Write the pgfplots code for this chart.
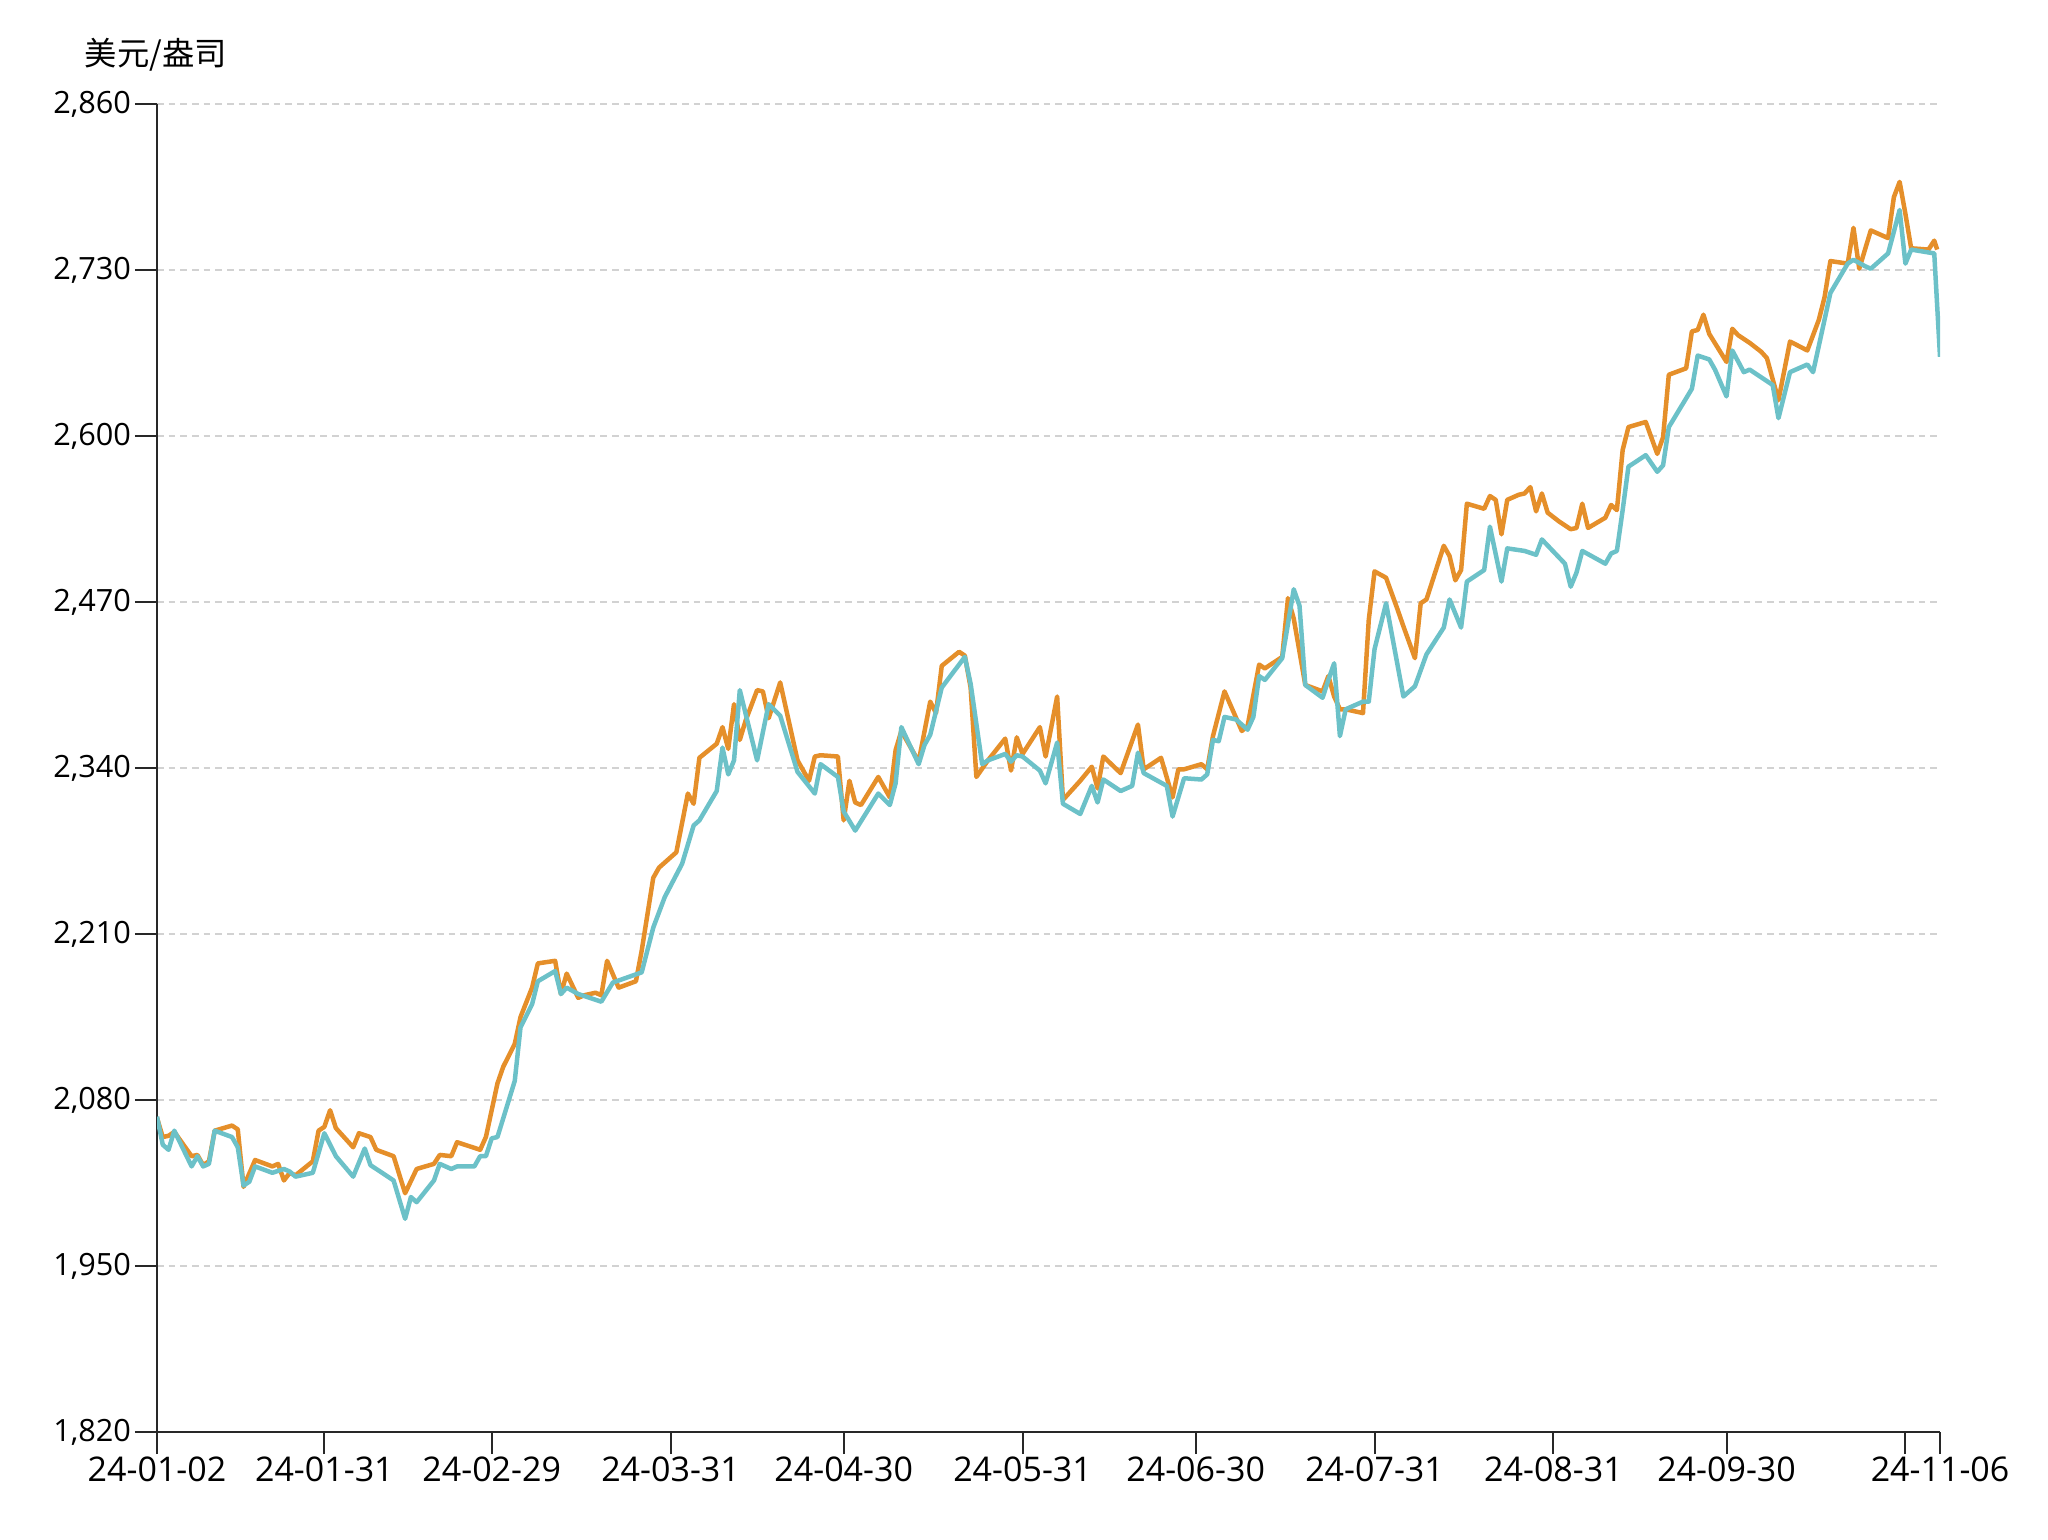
\documentclass[border=0pt]{standalone}
\usepackage{pgfplots}
\pgfplotsset{compat=1.18}
\usepackage{fontspec}
\setmainfont{Open Sans}
\newfontfamily\cjk{Noto Sans CJK SC}
\definecolor{cOrange}{RGB}{229,143,42}
\definecolor{cTeal}{RGB}{108,193,200}
\definecolor{cGrid}{RGB}{210,210,210}
\definecolor{cAxis}{RGB}{40,40,40}
\begin{document}
\begin{tikzpicture}
\useasboundingbox (0,0) rectangle (614.4pt,461.7pt);
\begin{axis}[
  at={(47.1pt,32.1pt)}, anchor=south west,
  scale only axis, width=534.9pt, height=398.4pt,
  xmin=0, xmax=309, ymin=1820, ymax=2860,
  axis x line=bottom, axis y line=left,
  axis line style={-, cAxis, line width=0.8pt},
  xtick={0,29,58,89,119,150,180,211,242,272,303,309},
  xticklabels={24-01-02,24-01-31,24-02-29,24-03-31,24-04-30,24-05-31,24-06-30,24-07-31,24-08-31,24-09-30,{},24-11-06},
  ytick={1820,1950,2080,2210,2340,2470,2600,2730,2860},
  tick align=outside,
  major tick length=6.6pt,
  tick style={cAxis, line width=0.6pt},
  ymajorgrids,
  major grid style={cGrid, line width=0.5pt, dash pattern=on 2pt off 1.5pt},
  yticklabel style={font=\fontsize{9.2pt}{11pt}\selectfont, text=black, inner sep=1pt},
  xticklabel style={font=\fontsize{10.2pt}{12pt}\selectfont, text=black, inner sep=0.5pt},
  /pgf/number format/.cd, 1000 sep={,}, assume math mode=true,
]
\addplot[cOrange, line width=1.35pt, line join=round] coordinates {
(0,2066)(1,2051)(2,2052)(3,2055)(6,2036)(7,2037)(8,2029)(9,2032)(10,2056)(13,2060)(14,2057)(15,2012)(17,2033)(20,2028)(21,2030)(22,2017)(23,2023)(24,2021)(27,2032)(28,2056)(29,2059)(30,2072)(31,2058)(34,2043)(35,2054)(37,2051)(38,2041)(41,2036)(43,2007)(45,2026)(48,2030)(49,2037)(51,2036)(52,2047)(56,2041)(57,2051)(59,2093)(60,2106)(62,2124)(63,2145)(65,2168)(66,2187)(69,2189)(70,2163)(71,2179)(73,2160)(74,2162)(76,2164)(77,2162)(78,2189)(80,2168)(83,2173)(84,2197)(86,2254)(87,2262)(90,2274)(92,2320)(93,2312)(94,2348)(97,2359)(98,2372)(99,2355)(100,2390)(101,2362)(102,2377)(104,2401)(105,2400)(106,2379)(108,2407)(111,2346)(113,2330)(114,2349)(115,2350)(118,2349)(119,2299)(120,2330)(121,2313)(122,2311)(125,2333)(127,2317)(128,2354)(129,2369)(132,2345)(134,2392)(135,2383)(136,2420)(139,2431)(140,2428)(141,2403)(142,2333)(144,2346)(147,2363)(148,2338)(149,2364)(150,2351)(153,2372)(154,2349)(156,2396)(157,2315)(160,2330)(162,2341)(163,2324)(164,2349)(167,2336)(170,2374)(171,2339)(174,2348)(176,2317)(177,2339)(178,2339)(181,2343)(182,2339)(183,2365)(185,2400)(188,2369)(189,2373)(191,2421)(192,2418)(195,2427)(196,2473)(197,2457)(199,2405)(202,2400)(203,2412)(204,2396)(205,2386)(206,2386)(209,2383)(210,2456)(211,2494)(213,2489)(215,2464)(216,2451)(218,2426)(219,2469)(220,2472)(223,2514)(224,2506)(225,2487)(226,2495)(227,2547)(230,2543)(231,2553)(232,2550)(233,2523)(234,2550)(236,2554)(237,2555)(238,2560)(239,2541)(240,2555)(241,2540)(243,2533)(245,2527)(246,2528)(247,2547)(248,2528)(251,2536)(252,2546)(253,2542)(254,2589)(255,2607)(258,2611)(260,2586)(261,2599)(262,2648)(265,2653)(266,2682)(267,2683)(268,2695)(269,2680)(272,2658)(273,2684)(274,2679)(276,2673)(278,2666)(279,2661)(281,2628)(283,2674)(286,2667)(288,2691)(289,2709)(290,2737)(293,2735)(294,2763)(295,2731)(296,2746)(297,2761)(300,2755)(301,2787)(302,2799)(303,2774)(304,2747)(307,2746)(308,2753)(308.5,2746)
};
\addplot[cTeal, line width=1.35pt, line join=round] coordinates {
(0,2067)(1,2045)(2,2041)(3,2056)(6,2028)(7,2036)(8,2028)(9,2030)(10,2056)(13,2051)(14,2043)(15,2013)(16,2016)(17,2028)(20,2023)(22,2026)(23,2024)(24,2020)(27,2023)(29,2054)(31,2036)(34,2020)(36,2042)(37,2029)(41,2017)(43,1987)(44,2004)(45,2000)(48,2017)(49,2030)(51,2026)(52,2028)(55,2028)(56,2036)(57,2036)(58,2050)(59,2051)(62,2095)(63,2137)(65,2155)(66,2173)(69,2181)(70,2163)(71,2168)(73,2163)(75,2160)(77,2157)(79,2172)(84,2180)(86,2215)(88,2239)(91,2265)(93,2295)(94,2299)(97,2322)(98,2356)(99,2335)(100,2346)(101,2401)(104,2346)(106,2390)(108,2381)(111,2337)(114,2320)(115,2343)(118,2333)(119,2306)(121,2291)(125,2320)(127,2311)(128,2328)(129,2372)(132,2343)(133,2358)(134,2366)(136,2403)(140,2427)(141,2406)(143,2343)(144,2346)(147,2351)(148,2345)(149,2350)(150,2349)(153,2338)(154,2328)(156,2360)(157,2312)(160,2304)(162,2326)(163,2313)(164,2331)(167,2322)(169,2326)(170,2352)(171,2336)(175,2326)(176,2302)(178,2332)(181,2331)(182,2335)(183,2362)(184,2361)(185,2380)(187,2378)(189,2370)(190,2380)(191,2412)(192,2409)(195,2426)(197,2480)(198,2467)(199,2405)(202,2395)(203,2409)(204,2422)(205,2365)(206,2386)(209,2392)(210,2392)(211,2433)(213,2469)(216,2396)(218,2404)(220,2429)(223,2450)(224,2472)(226,2450)(227,2486)(230,2495)(231,2529)(233,2486)(234,2512)(237,2510)(239,2507)(240,2519)(244,2500)(245,2482)(246,2493)(247,2510)(251,2500)(252,2508)(253,2510)(254,2542)(255,2576)(258,2585)(260,2572)(261,2577)(262,2607)(266,2637)(267,2663)(269,2660)(270,2652)(272,2631)(273,2667)(275,2650)(276,2652)(280,2640)(281,2614)(283,2650)(286,2656)(287,2650)(290,2712)(293,2735)(294,2738)(296,2733)(297,2731)(300,2743)(302,2777)(303,2735)(304,2746)(308,2743)(309,2662)
};
\end{axis}
\node[font=\cjk\fontsize{9.7pt}{11pt}\selectfont, anchor=center] at (46.8pt,445.2pt) {美元/盎司};
\end{tikzpicture}
\end{document}
